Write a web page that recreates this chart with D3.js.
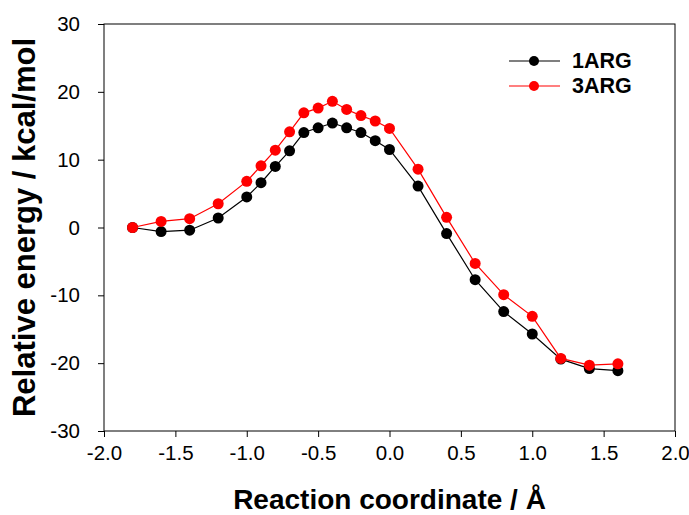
<!DOCTYPE html>
<html>
<head>
<meta charset="utf-8">
<script src="https://cdn.jsdelivr.net/npm/d3@7/dist/d3.min.js"></script>
<style>
body{margin:0;background:#fff;}
text{font-family:"Liberation Sans",Arial,sans-serif;}
</style>
</head>
<body>
<svg id="chart" width="689" height="515"></svg>
<script>
//数据
var coord=[-1.8,-1.6,-1.4,-1.2,-1.0,-0.9,-0.8,-0.7,-0.6,-0.5,-0.4,-0.3,-0.2,-0.1,0.0,0.2,0.4,0.6,0.8,1.0,1.2,1.4,1.6];
var arg1=[0,-0.6,-0.4,1.4,4.5,6.6,9.0,11.3,14.0,14.7,15.4,14.7,14.0,12.8,11.5,6.1,-0.9,-7.7,-12.4,-15.7,-19.4,-20.8,-21.1];
var arg3=[0,0.9,1.3,3.5,6.8,9.1,11.4,14.1,16.9,17.6,18.6,17.4,16.5,15.7,14.6,8.6,1.5,-5.3,-9.9,-13.1,-19.3,-20.3,-20.1];
var seriesNames=["1ARG","3ARG"];
var seriesColors=["#000000","#ff0000"];
var xTicks=[-2.0,-1.5,-1.0,-0.5,0.0,0.5,1.0,1.5,2.0];
var yTicks=[-30,-20,-10,0,10,20,30];

var svg=d3.select("#chart");
var pLeft=104,pRight=675,pTop=24,pBottom=431;
var x=d3.scaleLinear().domain([-2,2]).range([pLeft,pRight]);
var y=d3.scaleLinear().domain([-30,30]).range([pBottom,pTop]);

//负号用普通连字符
function fmtX(d){return d.toFixed(1);}
function fmtY(d){return String(d);}

//边框
svg.append("rect").attr("x",pLeft).attr("y",pTop).attr("width",pRight-pLeft).attr("height",pBottom-pTop)
	.attr("fill","none").attr("stroke","#000").attr("stroke-width",1);

//坐标轴
svg.append("g").attr("transform","translate(0,"+pBottom+")")
	.call(d3.axisBottom(x).tickValues(xTicks).tickSize(6).tickPadding(8).tickFormat(fmtX));
svg.append("g").attr("transform","translate("+pLeft+",0)")
	.call(d3.axisLeft(y).tickValues(yTicks).tickSize(6).tickPadding(18).tickFormat(fmtY));
svg.selectAll(".domain").remove();
svg.selectAll(".tick line").attr("stroke","#000");
svg.selectAll(".tick text").attr("fill","#000").style("font-size","20.5px")
	.style("font-family","'Liberation Sans',Arial,sans-serif");

//标题
svg.append("text").attr("x",(pLeft+pRight)/2).attr("y",509).attr("text-anchor","middle")
	.style("font-size","28px").style("font-weight","bold").text("Reaction coordinate / Å");
svg.append("text").attr("transform","translate(35,"+((pTop+pBottom)/2)+") rotate(-90)")
	.attr("text-anchor","middle").style("font-size","31px").style("font-weight","bold")
	.text("Relative energy / kcal/mol");

//曲线
function drawSeries(vals,color){
	var pts=coord.map(function(c,i){return [c,vals[i]];});
	var line=d3.line().x(function(d){return x(d[0]);}).y(function(d){return y(d[1]);});
	svg.append("path").datum(pts).attr("d",line).attr("fill","none").attr("stroke",color).attr("stroke-width",1.2);
	svg.append("g").selectAll("circle").data(pts).enter().append("circle")
		.attr("cx",function(d){return x(d[0]);}).attr("cy",function(d){return y(d[1]);})
		.attr("r",5.5).attr("fill",color);
}
drawSeries(arg1,seriesColors[0]);
drawSeries(arg3,seriesColors[1]);

//图例
var legend=svg.append("g");
seriesNames.forEach(function(name,i){
	var ly=61+i*25;
	legend.append("line").attr("x1",509).attr("x2",560).attr("y1",ly).attr("y2",ly)
		.attr("stroke",seriesColors[i]).attr("stroke-width",1.2);
	legend.append("circle").attr("cx",534).attr("cy",ly).attr("r",5).attr("fill",seriesColors[i]);
	legend.append("text").attr("x",572).attr("y",ly+7).style("font-size","21.5px").style("font-weight","bold").text(name);
});
</script>
</body>
</html>
